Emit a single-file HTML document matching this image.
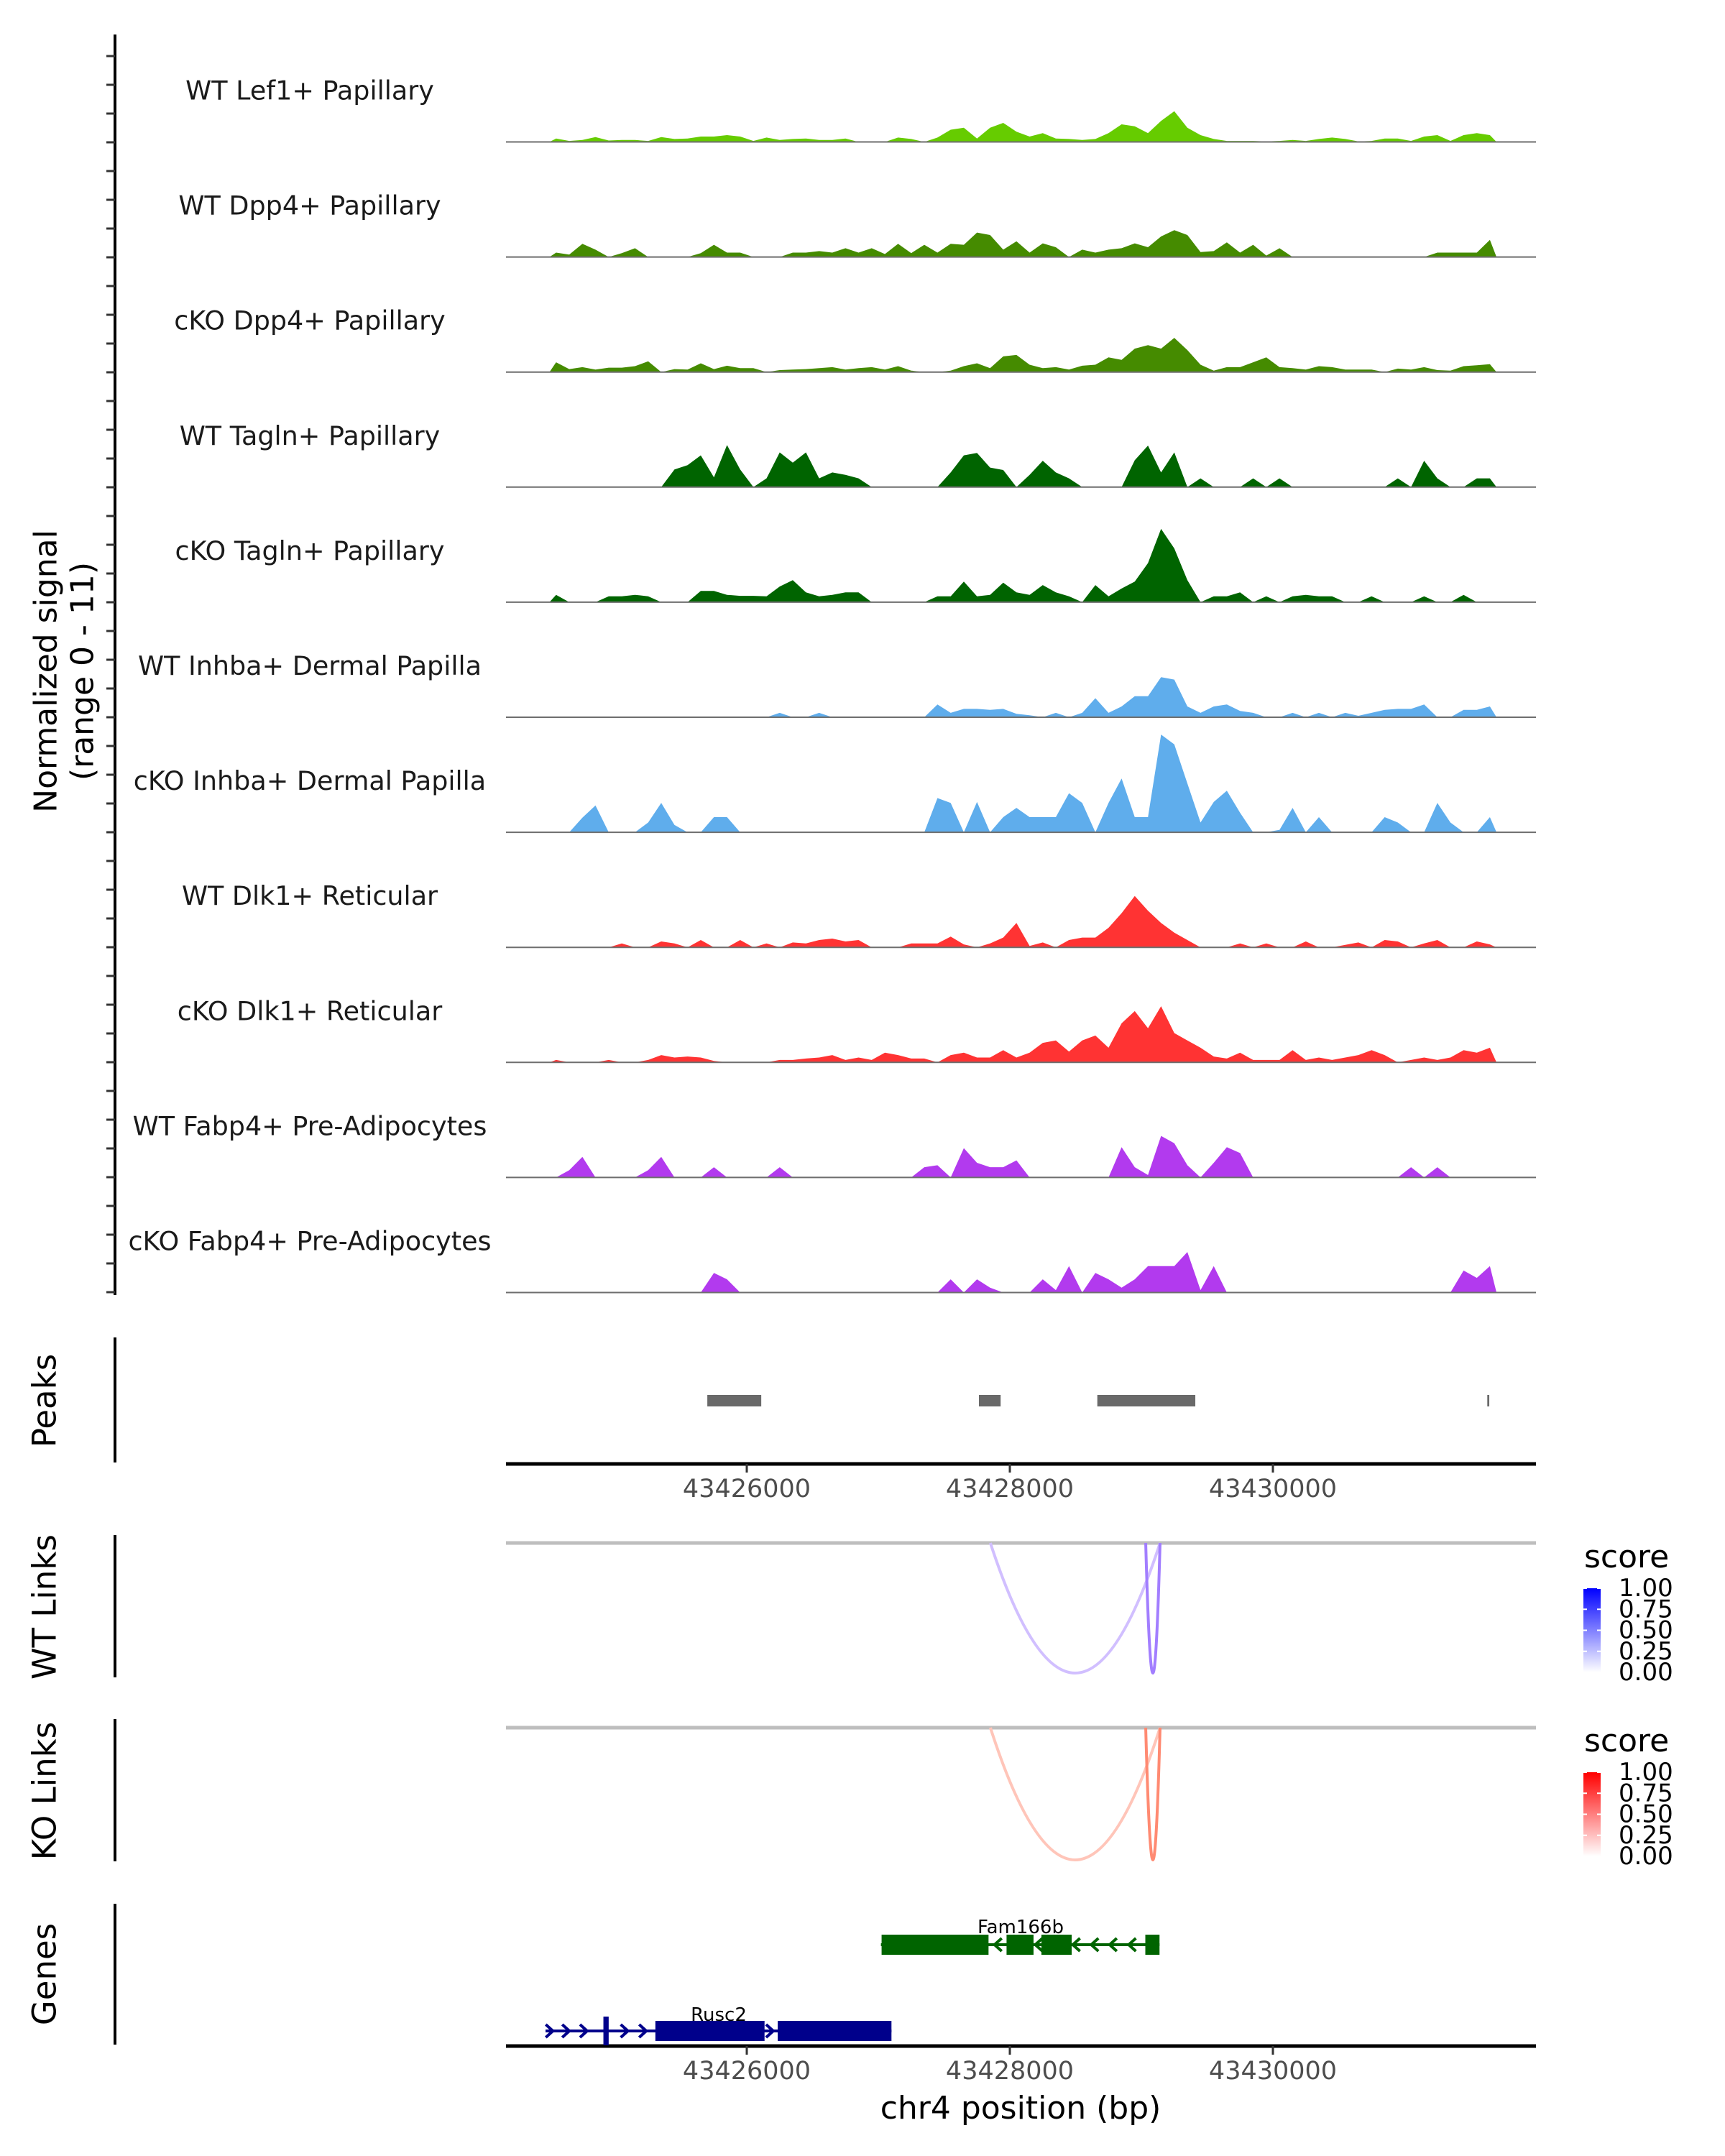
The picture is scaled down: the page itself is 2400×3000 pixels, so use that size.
<!DOCTYPE html>
<html><head><meta charset="utf-8"><style>
html,body{margin:0;padding:0;background:#fff;}
svg{display:block;font-family:"DejaVu Sans","Liberation Sans",sans-serif;}
</style></head><body>
<svg id="chart" width="2400" height="3000" viewBox="0 0 2400 3000" xmlns="http://www.w3.org/2000/svg">
<rect width="2400" height="3000" fill="#fff"/>
<g id="tracks"></g>
<g id="axes"></g>
</svg>
<script>
// ---- data ----
const binStart = 43424500;
const binWidth = 100;
const trackNames = ["WT Lef1+ Papillary","WT Dpp4+ Papillary","cKO Dpp4+ Papillary","WT Tagln+ Papillary","cKO Tagln+ Papillary","WT Inhba+ Dermal Papilla","cKO Inhba+ Dermal Papilla","WT Dlk1+ Reticular","cKO Dlk1+ Reticular","WT Fabp4+ Pre-Adipocytes","cKO Fabp4+ Pre-Adipocytes"];
const trackColors = ["#66CC00","#458B00","#458B00","#006400","#006400","#5FADEC","#5FADEC","#FF3333","#FF3333","#B23AEE","#B23AEE"];
const sigLef1WT = [0.7,0.2,0.4,1.0,0.3,0.4,0.4,0.2,1.0,0.6,0.7,1.1,1.1,1.4,1.1,0.2,0.9,0.4,0.6,0.7,0.4,0.4,0.7,0,0,0,0.9,0.6,0,0.9,2.5,2.9,0.7,2.9,3.9,2.1,1.1,1.8,0.7,0.6,0.4,0.6,1.8,3.6,3.2,1.8,4.3,6.3,2.9,1.4,0.6,0.2,0.2,0.2,0.1,0.2,0.4,0.2,0.6,0.9,0.6,0.1,0.2,0.7,0.7,0.2,1.1,1.4,0.2,1.4,1.8,1.4];
const sigDpp4WT = [0.9,0.5,2.7,1.5,0,0.8,1.8,0,0,0,0,0.8,2.5,0.9,0.9,0,0,0,0.9,0.9,1.2,0.9,1.8,0.9,1.8,0.6,2.7,0.8,2.5,0.9,2.7,2.5,5.0,4.5,1.5,3.2,0.9,2.8,2.0,0,1.5,0.9,1.5,1.8,2.8,2.0,4.2,5.5,4.5,1.0,1.2,3.0,0.9,2.5,0.3,1.8,0,0,0,0,0,0,0,0,0,0,0,0.9,0.9,0.9,0.9,3.5];
const sigDpp4KO = [2.0,0.6,1.0,0.5,0.9,0.9,1.2,2.2,0,0.6,0.5,1.8,0.6,1.3,0.8,0.8,0,0.4,0.5,0.6,0.8,1.0,0.5,0.8,1.0,0.5,1.2,0.3,0,0,0.3,1.2,1.8,0.8,3.2,3.5,1.5,0.8,1.0,0.5,1.3,1.5,3.0,2.5,4.8,5.5,4.8,7.0,4.5,1.5,0.3,1.0,1.0,2.0,3.0,1.0,0.8,0.5,1.2,1.0,0.5,0.5,0.5,0,0.7,0.5,1.0,0.4,0.3,1.2,1.4,1.6];
const sigTaglnWT = [0,0,0,0,0,0,0,0,0,3.6,4.5,6.5,2.0,8.6,3.6,0,1.8,7.1,5.0,7.1,1.8,3.0,2.5,1.8,0,0,0,0,0,0,3.0,6.5,7.0,4.0,3.5,0,2.5,5.4,3.0,1.8,0,0,0,0,5.5,8.5,3.0,7.1,0,1.8,0,0,0,1.8,0,1.8,0,0,0,0,0,0,0,0,1.8,0,5.4,1.8,0,0,1.8,1.8];
const sigTaglnKO = [1.5,0,0,0,1.2,1.2,1.5,1.2,0,0,0,2.3,2.3,1.5,1.3,1.3,1.2,3.2,4.5,2.0,1.2,1.5,2.0,2.0,0,0,0,0,0,1.2,1.2,4.2,1.2,1.5,4.0,2.0,1.5,3.5,2.0,1.2,0,3.5,1.2,2.8,4.2,8.0,15.0,11.0,4.5,0,1.2,1.2,2.0,0,1.2,0,1.2,1.5,1.2,1.2,0,0,1.2,0,0,0,1.2,0,0,1.5,0,0];
const sigInhbaWT = [0,0,0,0,0,0,0,0,0,0,0,0,0,0,0,0,0,0.9,0,0,0.9,0,0,0,0,0,0,0,0,2.6,0.9,1.7,1.7,1.5,1.7,0.7,0.4,0,0.9,0,0.9,3.9,0.9,2.2,4.3,4.3,8.2,7.7,2.2,0.9,2.2,2.6,1.3,0.9,0,0,0.9,0,0.9,0,0.9,0.3,0.9,1.5,1.7,1.7,2.6,0,0,1.5,1.5,2.2];
const sigInhbaKO = [0,0,3.0,5.5,0,0,0,2.0,6.0,1.5,0,0,3.1,3.1,0,0,0,0,0,0,0,0,0,0,0,0,0,0,0,7.0,6.0,0,6.2,0,3.1,5.0,3.1,3.1,3.1,8.0,6.0,0,6.0,11.0,3.1,3.1,20.0,18.0,10.0,2.0,6.2,8.5,4.0,0,0,0.5,5.0,0,3.1,0,0,0,0,3.1,2.0,0,0,6.0,2.0,0,0,3.1];
const sigDlk1WT = [0,0,0,0,0,0.8,0,0,1.2,0.8,0,1.5,0,0,1.5,0,0.8,0,1.0,0.8,1.5,1.8,1.2,1.5,0,0,0,0.8,0.8,0.8,2.2,0.6,0,0.8,2.0,5.0,0.3,1.0,0,1.5,2.0,2.0,4.0,7.0,10.5,7.5,5.0,3.0,1.5,0,0,0,0.8,0,0.8,0,0,1.2,0,0,0.5,1.0,0,1.5,1.2,0,0.8,1.5,0,0,1.2,0.6];
const sigDlk1KO = [0.5,0,0,0,0.5,0,0,0.5,1.5,1.0,1.2,1.0,0.3,0,0,0,0,0.5,0.5,0.8,1.0,1.5,0.5,1.0,0.5,2.0,1.5,0.8,0.8,0,1.5,2.0,1.0,1.0,2.5,1.0,2.0,4.0,4.5,2.2,4.5,5.5,3.0,8.0,10.5,7.0,11.5,6.0,4.5,3.0,1.2,0.8,2.0,0.5,0.5,0.5,2.5,0.5,1.0,0.5,1.0,1.5,2.5,1.5,0,0.5,1.0,0.5,1.0,2.5,2.0,3.0];
const sigFabp4WT = [0,1.5,4.2,0,0,0,0,1.5,4.2,0,0,0,2.1,0,0,0,0,2.1,0,0,0,0,0,0,0,0,0,0,2.1,2.5,0,6.0,3.0,2.1,2.1,3.5,0,0,0,0,0,0,0,6.2,2.1,0.5,8.5,7.0,2.5,0,3.0,6.2,5.0,0,0,0,0,0,0,0,0,0,0,0,0,2.1,0,2.1,0,0,0,0];
const sigFabp4KO = [0,0,0,0,0,0,0,0,0,0,0,0,4.0,2.7,0,0,0,0,0,0,0,0,0,0,0,0,0,0,0,0,2.7,0,2.7,1.0,0,0,0,2.7,0.5,5.4,0,4.0,2.7,1.0,2.7,5.4,5.4,5.4,8.3,0.5,5.4,0,0,0,0,0,0,0,0,0,0,0,0,0,0,0,0,0,0,4.5,3.0,5.4];
const trackSignals = [sigLef1WT,sigDpp4WT,sigDpp4KO,sigTaglnWT,sigTaglnKO,sigInhbaWT,sigInhbaKO,sigDlk1WT,sigDlk1KO,sigFabp4WT,sigFabp4KO];
const peakStarts = [43425700, 43427765, 43428665, 43431630];
const peakEnds   = [43426110, 43427930, 43429410, 43431645];
const wtLinkStarts = [43427852, 43429033];
const wtLinkEnds   = [43429142, 43429142];
const wtLinkScores = [0.3, 0.6];
const koLinkStarts = [43427852, 43429033];
const koLinkEnds   = [43429142, 43429142];
const koLinkScores = [0.3, 0.6];
const xTicks = [43426000, 43428000, 43430000];
const legendTicks = ["1.00","0.75","0.50","0.25","0.00"];

// ---- scales ----
const NS = "http://www.w3.org/2000/svg";
const X0 = 704, X1 = 2137;
function xScale(bp){ return 1039 + (bp - 43426000) * 0.183; }
const UNIT = 6.8;
function mk(tag, attrs, parent){
  const e = document.createElementNS(NS, tag);
  for (const k in attrs) e.setAttribute(k, attrs[k]);
  parent.appendChild(e); return e;
}
const tracks = document.getElementById('tracks');
const axes = document.getElementById('axes');

trackSignals.forEach((vals, t) => {
  const base = 197.5 + 160.1 * t;
  const g = mk('g', {}, tracks);
  
  
  const lab = mk('text', {x: 431, y: base - 59, 'font-size': 36.5, 'text-anchor': 'middle', fill: '#1a1a1a'}, g);
  lab.textContent = trackNames[t];
  
  
  let pts = [];
  pts.push(xScale(binStart) + ',' + base);
  vals.forEach((v, i) => {
    const xc = xScale(binStart + binWidth * (i + 0.5));
    pts.push(xc.toFixed(1) + ',' + (base - v * UNIT).toFixed(1));
  });
  pts.push(xScale(binStart + binWidth * vals.length) + ',' + base);
  const area = mk('polygon', {points: pts.join(' '), fill: trackColors[t]}, g);
  
  
  const bl = mk('line', {x1: X0, x2: X1, y1: base, y2: base, stroke: '#6e6e6e', 'stroke-width': 2}, g);
  
  
});

const yax = mk('line', {x1: 160, x2: 160, y1: 48, y2: 1802, stroke: '#000', 'stroke-width': 4}, axes);


for (let y = 78; y <= 1800; y += 40) {
  const tk = mk('line', {x1: 148, x2: 160, y1: y, y2: y, stroke: '#333', 'stroke-width': 3}, axes);
  
  
}
function vtext(txt, x, y, size, name){
  const e = mk('text', {x: x, y: y, 'font-size': size, 'text-anchor': 'middle', 'dominant-baseline': 'central', transform: 'rotate(-90 ' + x + ' ' + y + ')', fill: '#000'}, axes);
  e.textContent = txt;
  
  
}
vtext('Normalized signal', 64, 934, 44, 'y-axis-title');
vtext('(range 0 - 11)', 115, 934, 44, 'y-axis-range');
vtext('Peaks', 62, 1949, 45, 'peaks-title');
vtext('WT Links', 62, 2236, 45, 'wt-links-title');
vtext('KO Links', 62, 2492, 45, 'ko-links-title');
vtext('Genes', 62, 2747, 45, 'genes-title');
[[1861,2035],[2136,2334],[2392,2590],[2649,2845]].forEach(r => {
  const l = mk('line', {x1: 160, x2: 160, y1: r[0], y2: r[1], stroke: '#000', 'stroke-width': 4}, axes);
  
  
});

peakStarts.forEach((s, i) => {
  const x1 = xScale(s), x2 = xScale(peakEnds[i]);
  const r = mk('rect', {x: x1, y: 1941, width: Math.max(2, x2 - x1), height: 16, fill: '#696969'}, axes);
  
  
});

function xAxis(y, name){
  const l = mk('line', {x1: X0, x2: X1, y1: y, y2: y, stroke: '#000', 'stroke-width': 5}, axes);
  
  
  xTicks.forEach(t => {
    const x = xScale(t);
    const tk = mk('line', {x1: x, x2: x, y1: y, y2: y + 12, stroke: '#333', 'stroke-width': 3}, axes);
    
    
    const tx = mk('text', {x: x, y: y + 46, 'font-size': 35, 'text-anchor': 'middle', fill: '#4d4d4d'}, axes);
    tx.textContent = t;
    
    
  });
}
xAxis(2037, 'peaks-x-axis');
xAxis(2847, 'genes-x-axis');
const xl = mk('text', {x: 1420, y: 2948, 'font-size': 44, 'text-anchor': 'middle', fill: '#000'}, axes);
xl.textContent = 'chr4 position (bp)';



function mix(c, s){
  const r = Math.round(255 + (c[0] - 255) * s), g = Math.round(255 + (c[1] - 255) * s), b = Math.round(255 + (c[2] - 255) * s);
  return 'rgb(' + r + ',' + g + ',' + b + ')';
}
function links(starts, ends, scores, top, bottom, col, name){
  const gl = mk('line', {x1: X0, x2: X1, y1: top, y2: top, stroke: '#bebebe', 'stroke-width': 5}, axes);
  
  
  starts.forEach((s, i) => {
    const a = xScale(s), b = xScale(ends[i]), m = (a + b) / 2;
    const d = 'M' + a + ',' + top + ' Q' + m + ',' + (2 * bottom - top) + ' ' + b + ',' + top;
    const p = mk('path', {d: d, fill: 'none', stroke: mix(col, scores[i]), 'stroke-width': 4}, axes);
    
    
  });
}
links(wtLinkStarts, wtLinkEnds, wtLinkScores, 2147, 2328, [100, 40, 255], 'wt-link');
links(koLinkStarts, koLinkEnds, koLinkScores, 2404, 2588, [255, 60, 20], 'ko-link');

function legend(yTitle, barTop, barBot, col, gid, name){
  const defs = mk('defs', {}, axes);
  const lg = mk('linearGradient', {id: gid, x1: 0, y1: 1, x2: 0, y2: 0}, defs);
  mk('stop', {offset: '0', 'stop-color': '#ffffff'}, lg);
  mk('stop', {offset: '1', 'stop-color': col}, lg);
  const t = mk('text', {x: 2204, y: yTitle, 'font-size': 44, fill: '#000'}, axes);
  t.textContent = 'score';
  
  
  const r = mk('rect', {x: 2203, y: barTop, width: 24, height: barBot - barTop, fill: 'url(#' + gid + ')'}, axes);
  
  
  legendTicks.forEach((lab, i) => {
    const y = barTop + (barBot - barTop) * i / (legendTicks.length - 1);
    mk('line', {x1: 2203, x2: 2208, y1: y, y2: y, stroke: '#fff', 'stroke-width': 2}, axes);
    mk('line', {x1: 2222, x2: 2227, y1: y, y2: y, stroke: '#fff', 'stroke-width': 2}, axes);
    const tx = mk('text', {x: 2252, y: y, 'font-size': 34, 'dominant-baseline': 'central', fill: '#000'}, axes);
    tx.textContent = lab;
    
    
  });
}
legend(2181, 2210, 2327, '#0000FF', 'gradWT', 'wt-legend');
legend(2437, 2466, 2583, '#FF0000', 'gradKO', 'ko-legend');

function gene(y, lineA, lineB, boxes, arrows, dir, col, label, lx, ly, name){
  const g = mk('g', {}, axes);
  
  
  mk('line', {x1: xScale(lineA), x2: xScale(lineB), y1: y, y2: y, stroke: col, 'stroke-width': 4}, g);
  boxes.forEach(b => {
    const h = b[2] || 28;
    mk('rect', {x: xScale(b[0]), y: y - h / 2, width: xScale(b[1]) - xScale(b[0]), height: h, fill: col}, g);
  });
  arrows.forEach(a => {
    const x = xScale(a);
    const d = dir < 0 ? 'M' + (x + 7) + ',' + (y - 9) + ' L' + (x - 3) + ',' + y + ' L' + (x + 7) + ',' + (y + 9)
                      : 'M' + (x - 7) + ',' + (y - 9) + ' L' + (x + 3) + ',' + y + ' L' + (x - 7) + ',' + (y + 9);
    mk('path', {d: d, fill: 'none', stroke: col, 'stroke-width': 4}, g);
  });
  const t = mk('text', {x: lx, y: ly, 'font-size': 26, 'text-anchor': 'middle', fill: '#000'}, g);
  t.textContent = label;
}
gene(2706, 43427020, 43429138,
  [[43427025,43427838],[43427975,43428180],[43428240,43428470],[43429030,43429138]],
  [43427900,43428210,43428495,43428635,43428775,43428920], -1, '#006400', 'Fam166b', 1420, 2690, 'gene-fam166b');
gene(2826, 43424470, 43427100,
  [[43424910,43424950,40],[43425305,43426135],[43426235,43427100]],
  [43424510,43424635,43424770,43425080,43425220,43426185], 1, '#00008B', 'Rusc2', 1000, 2812, 'gene-rusc2');
</script>
</body></html>
